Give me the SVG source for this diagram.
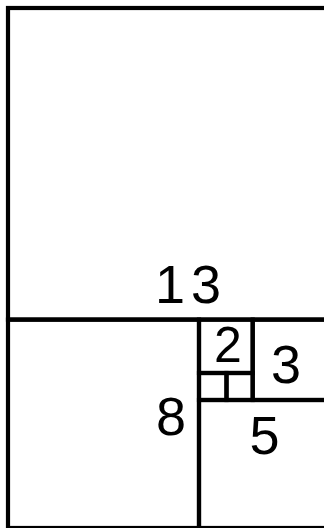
<svg xmlns="http://www.w3.org/2000/svg" width="324" height="528" viewBox="0 0 324 528">
<style>
.sq{fill:none;stroke:#000;stroke-width:4.2}
.lb{font-family:"Liberation Sans",Arial,sans-serif;font-size:54px;fill:#000}
</style>
<rect x="0" y="0" width="324" height="528" fill="#fff"/>
<g id="square13"><rect class="sq" x="8" y="8" width="340" height="311.6"/><text class="lb" x="155 191" y="303">13</text></g>
<g id="square8"><rect class="sq" x="8" y="319.6" width="191" height="208.4"/><text class="lb" x="171" y="435" text-anchor="middle">8</text></g>
<g id="square2"><rect class="sq" x="199" y="319.6" width="53.7" height="53.4"/><text class="lb" x="228" y="362" text-anchor="middle" style="font-size:50px">2</text></g>
<g id="square1a"><rect class="sq" x="199" y="373" width="27.5" height="27"/></g>
<g id="square1b"><rect class="sq" x="226.5" y="373" width="26.2" height="27"/></g>
<g id="square3"><rect class="sq" x="252.7" y="319.6" width="100" height="80.4"/><text class="lb" x="286" y="383" text-anchor="middle">3</text></g>
<g id="square5"><rect class="sq" x="199" y="400" width="150" height="128"/><text class="lb" x="264.5" y="454" text-anchor="middle">5</text></g>
</svg>
